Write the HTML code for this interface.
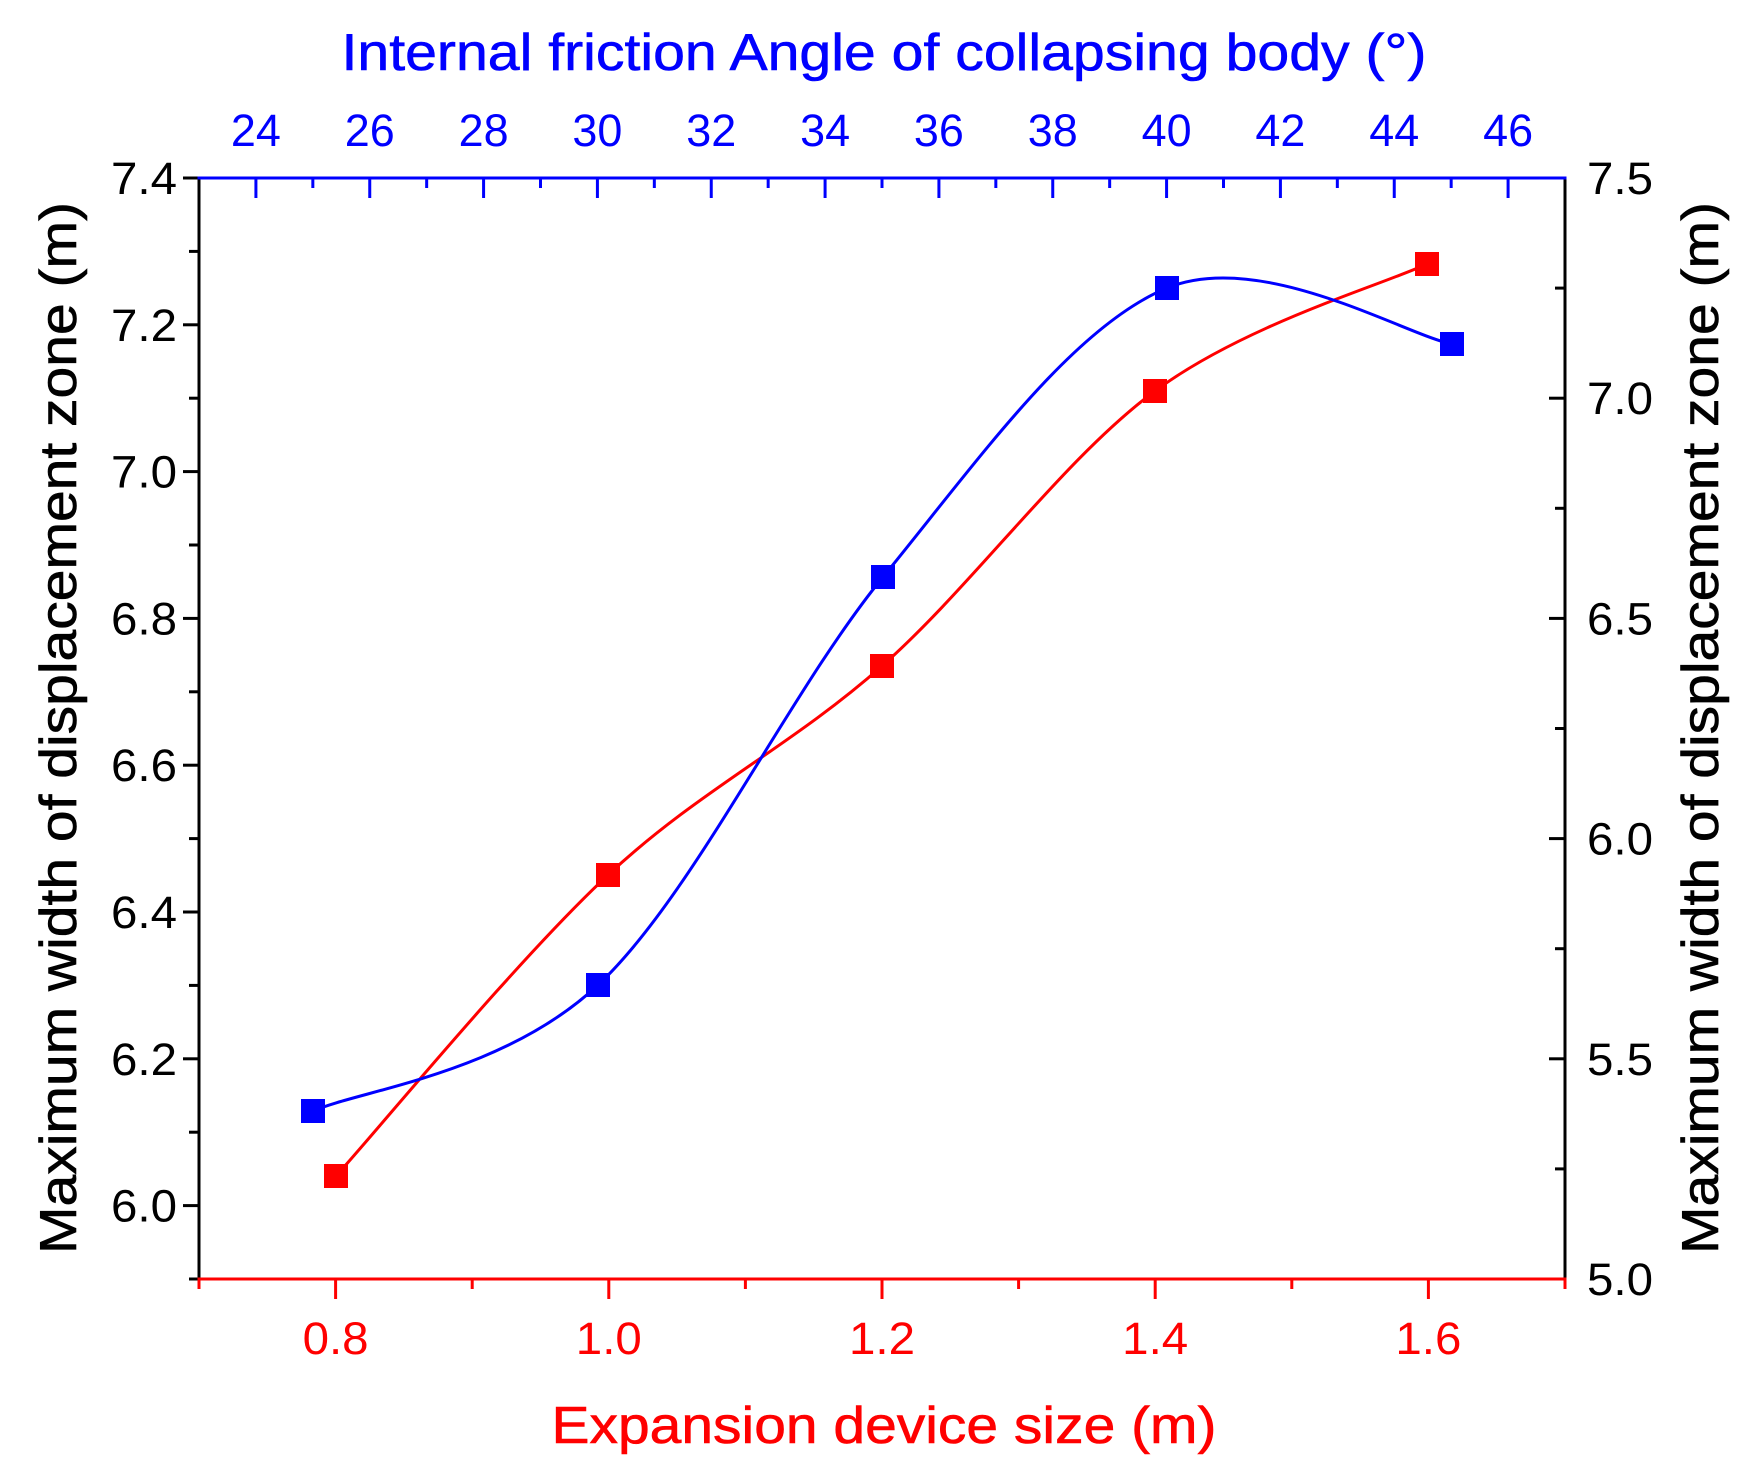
<!DOCTYPE html>
<html><head><meta charset="utf-8"><style>
html,body{margin:0;padding:0;background:#fff;}
svg{display:block;font-family:"Liberation Sans",Arial,sans-serif;}
</style></head><body>
<svg id="s" width="1759" height="1476" viewBox="0 0 1759 1476" xmlns="http://www.w3.org/2000/svg">
<rect width="1759" height="1476" fill="#fff"/>
<g id="g"></g>
<text x="884" y="70" font-size="52" fill="#0000ff" stroke="#0000ff" stroke-width="0.6" text-anchor="middle" textLength="1085" lengthAdjust="spacingAndGlyphs">Internal friction Angle of collapsing body (°)</text>
<text x="884" y="1443" font-size="52" fill="#ff0000" stroke="#ff0000" stroke-width="0.6" text-anchor="middle" textLength="665" lengthAdjust="spacingAndGlyphs">Expansion device size (m)</text>
<text transform="translate(76,728) rotate(-90)" font-size="52" fill="#000" stroke="#000" stroke-width="0.6" text-anchor="middle" textLength="1052" lengthAdjust="spacingAndGlyphs">Maximum width of displacement zone (m)</text>
<text transform="translate(1718,728) rotate(-90)" font-size="52" fill="#000" stroke="#000" stroke-width="0.6" text-anchor="middle" textLength="1052" lengthAdjust="spacingAndGlyphs">Maximum width of displacement zone (m)</text>
</svg>
<script>
var L=199,R=1565,T=178,B=1279,NS="http://www.w3.org/2000/svg",g=document.getElementById('g');
function el(t,a,txt){var e=document.createElementNS(NS,t);for(var k in a)e.setAttribute(k,a[k]);if(txt!==undefined)e.textContent=txt;g.appendChild(e);return e;}
function ln(x1,y1,x2,y2,c,w){el('line',{x1:x1,y1:y1,x2:x2,y2:y2,stroke:c,'stroke-width':w||3});}
function yl(v){return B-(v-5.9)/1.5*(B-T);}
function yr(v){return B-(v-5.0)/2.5*(B-T);}
function xb(v){return L+(v-0.7)/1.0*(R-L);}
function xt(v){return L+(v-23)/24*(R-L);}
var FS=45;
for(var i=0;i<=15;i++){var v=5.9+i*0.1,y=yl(v),maj=(i%2==1);ln(L,y,L-(maj?16:10),y,'#000');
 if(maj)el('text',{x:L-22,y:y+16,'font-size':FS,'text-anchor':'end',fill:'#000',textLength:66,lengthAdjust:'spacingAndGlyphs'},v.toFixed(1));}
for(var i=0;i<=10;i++){var v=5+i*0.25,y=yr(v),maj=(i%2==0);ln(R,y,R-(maj?16:10),y,'#000');
 if(maj)el('text',{x:R+22,y:y+16,'font-size':FS,'text-anchor':'start',fill:'#000',textLength:66,lengthAdjust:'spacingAndGlyphs'},v.toFixed(1));}
for(var i=0;i<=10;i++){var v=0.7+i*0.1,x=xb(v),maj=(i%2==1);ln(x,B,x,B+(maj?20:10),'#ff0000');
 if(maj)el('text',{x:x,y:1354,'font-size':FS,'text-anchor':'middle',fill:'#ff0000',textLength:66,lengthAdjust:'spacingAndGlyphs'},v.toFixed(1));}
for(var i=0;i<=24;i++){var v=23+i,x=xt(v),maj=(i%2==1);ln(x,T,x,T+(maj?20:10),'#0000ff');
 if(maj)el('text',{x:x,y:146,'font-size':FS,'text-anchor':'middle',fill:'#0000ff',textLength:50,lengthAdjust:'spacingAndGlyphs'},String(v));}
ln(L,T-1.5,L,B+1.5,'#000');ln(R,T-1.5,R,B+1.5,'#000');
ln(L-1.5,T,R+1.5,T,'#0000ff');ln(L-1.5,B,R+1.5,B,'#ff0000');
function cr(p){var d='M'+p[0][0]+','+p[0][1];for(var i=0;i<p.length-1;i++){var p0=p[i-1]||p[i],p1=p[i],p2=p[i+1],p3=p[i+2]||p[i+1];
 var c1=[p1[0]+(p2[0]-p0[0])/6,p1[1]+(p2[1]-p0[1])/6],c2=[p2[0]-(p3[0]-p1[0])/6,p2[1]-(p3[1]-p1[1])/6];
 d+=' C'+c1[0]+','+c1[1]+' '+c2[0]+','+c2[1]+' '+p2[0]+','+p2[1];}return d;}
var red=[[336,1176],[608,875],[882,666],[1155,391],[1427,264]];
var blue=[[313,1111],[598,985],[883,577],[1167,288],[1452,344]];
el('path',{d:cr(red),fill:'none',stroke:'#ff0000','stroke-width':3});
el('path',{d:cr(blue),fill:'none',stroke:'#0000ff','stroke-width':3});
red.forEach(function(p){el('rect',{x:p[0]-12,y:p[1]-12,width:24,height:24,fill:'#ff0000'});});
blue.forEach(function(p){el('rect',{x:p[0]-12,y:p[1]-12,width:24,height:24,fill:'#0000ff'});});
</script>
</body></html>
